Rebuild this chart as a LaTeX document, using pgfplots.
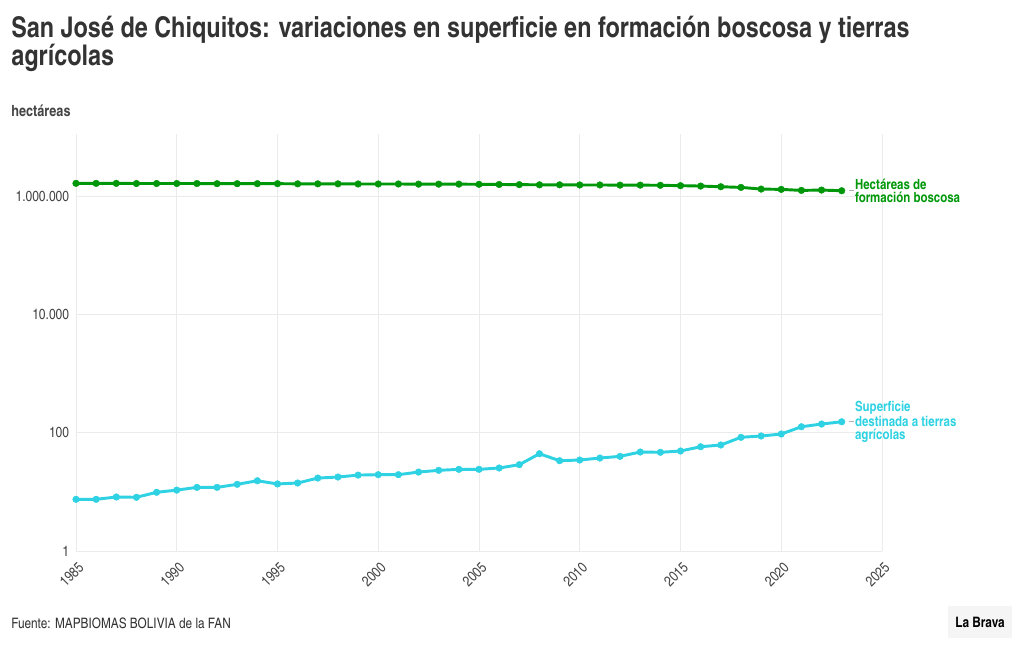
\documentclass[border=0pt]{standalone}
\usepackage{fontspec}
\setmainfont{TeX Gyre Heros Cn}
\usepackage{pgfplots}
\pgfplotsset{compat=1.18}

\definecolor{bosque}{RGB}{0,152,10}
\definecolor{agri}{RGB}{46,210,226}
\definecolor{gridgray}{RGB}{235,235,235}
\definecolor{tickgray}{RGB}{68,68,68}
\definecolor{titlegray}{RGB}{51,51,51}

\begin{document}
\begin{tikzpicture}
\path[use as bounding box] (0,0) rectangle (765pt,487.5pt);

\begin{axis}[
	at={(57pt,74.25pt)}, anchor=south west,
	scale only axis,
	width=604.5pt, height=312.75pt,
	ymode=log,
	xmin=1985, xmax=2025,
	ymin=1, ymax=1.12e7,
	xtick={1985,1990,1995,2000,2005,2010,2015,2020,2025},
	xticklabels={1985,1990,1995,2000,2005,2010,2015,2020,2025},
	ytick={1,100,10000,1000000},
	yticklabels={1,100,10.000,1.000.000},
	minor ytick={},
	grid=major,
	grid style={draw=gridgray, line width=0.75pt},
	axis line style={draw=none},
	major tick length=0pt,
	tick label style={font=\fontsize{11pt}{12pt}\selectfont, text=tickgray},
	xticklabel style={anchor=north east, inner sep=1pt, xshift=1pt, yshift=-6pt, rotate=45},
	yticklabel style={inner sep=1pt, xshift=-4pt},
	clip=false,
]

% Hectareas de formacion boscosa
\addplot[bosque, line width=2.2pt, mark=*, mark size=2.5pt, mark options={line width=0.3pt}] coordinates {
	(1985,1.64e6) (1986,1.64e6) (1987,1.64e6) (1988,1.63e6) (1989,1.63e6)
	(1990,1.63e6) (1991,1.63e6) (1992,1.62e6) (1993,1.62e6) (1994,1.62e6)
	(1995,1.62e6) (1996,1.61e6) (1997,1.61e6) (1998,1.61e6) (1999,1.60e6)
	(2000,1.60e6) (2001,1.60e6) (2002,1.59e6) (2003,1.59e6) (2004,1.59e6)
	(2005,1.58e6) (2006,1.57e6) (2007,1.56e6) (2008,1.55e6) (2009,1.55e6)
	(2010,1.54e6) (2011,1.54e6) (2012,1.53e6) (2013,1.53e6) (2014,1.52e6)
	(2015,1.50e6) (2016,1.476e6) (2017,1.438e6) (2018,1.401e6) (2019,1.313e6)
	(2020,1.297e6) (2021,1.247e6) (2022,1.263e6) (2023,1.231e6)
};

% Superficie destinada a tierras agricolas
\addplot[agri, line width=2.2pt, mark=*, mark size=2.5pt, mark options={line width=0.3pt}] coordinates {
	(1985,7.48) (1986,7.48) (1987,8.18) (1988,8.09) (1989,9.82)
	(1990,10.7) (1991,11.9) (1992,11.9) (1993,13.4) (1994,15.4)
	(1995,13.6) (1996,14.1) (1997,17.1) (1998,17.8) (1999,19.2)
	(2000,19.5) (2001,19.5) (2002,21.6) (2003,23.1) (2004,24.0)
	(2005,24.0) (2006,25.3) (2007,28.8) (2008,44.1) (2009,33.6)
	(2010,34.5) (2011,37.3) (2012,39.8) (2013,47.1) (2014,46.6)
	(2015,49.0) (2016,57.9) (2017,61.9) (2018,83.5) (2019,87.9)
	(2020,94.9) (2021,126) (2022,140) (2023,153)
};

% etiquetas directas
\draw[gray!60, line width=0.5pt] (axis cs:2023.35,1.231e6) -- (axis cs:2023.6,1.231e6);
\node[anchor=west, align=left, inner sep=0pt, text=bosque,
	font=\bfseries\fontsize{10.5pt}{9.6pt}\selectfont]
	at (axis cs:2023.65,1.231e6) {Hectáreas de\\formación boscosa};
\draw[gray!60, line width=0.5pt] (axis cs:2023.35,153) -- (axis cs:2023.6,153);
\node[anchor=west, align=left, inner sep=0pt, text=agri,
	font=\bfseries\fontsize{10.5pt}{9.6pt}\selectfont]
	at (axis cs:2023.65,153) {Superficie\\destinada a tierras\\agrícolas};
\end{axis}

\begin{scope}[x=0.75pt, y=0.75pt]
\node[anchor=base west, inner sep=0pt, text=titlegray,
	font=\bfseries\fontsize{21.4pt}{24pt}\selectfont] at (11,650-37.5)
	{San José de Chiquitos: variaciones en superficie en formación boscosa y tierras};
\node[anchor=base west, inner sep=0pt, text=titlegray,
	font=\bfseries\fontsize{21.4pt}{24pt}\selectfont] at (11,650-66)
	{agrícolas};
\node[anchor=base west, inner sep=0pt, text=tickgray,
	font=\bfseries\fontsize{11.6pt}{13pt}\selectfont] at (11,650-117)
	{hectáreas};
\node[anchor=base west, inner sep=0pt, text=titlegray,
	font=\fontsize{10.8pt}{12pt}\selectfont] at (11,650-628)
	{Fuente: MAPBIOMAS BOLIVIA de la FAN};
\fill[black!4] (948,650-638) rectangle (1012,650-606);
\node[anchor=base, inner sep=0pt, text=black,
	font=\bfseries\fontsize{10.8pt}{12pt}\selectfont] at (980,650-627)
	{La Brava};
\end{scope}
\end{tikzpicture}
\end{document}
